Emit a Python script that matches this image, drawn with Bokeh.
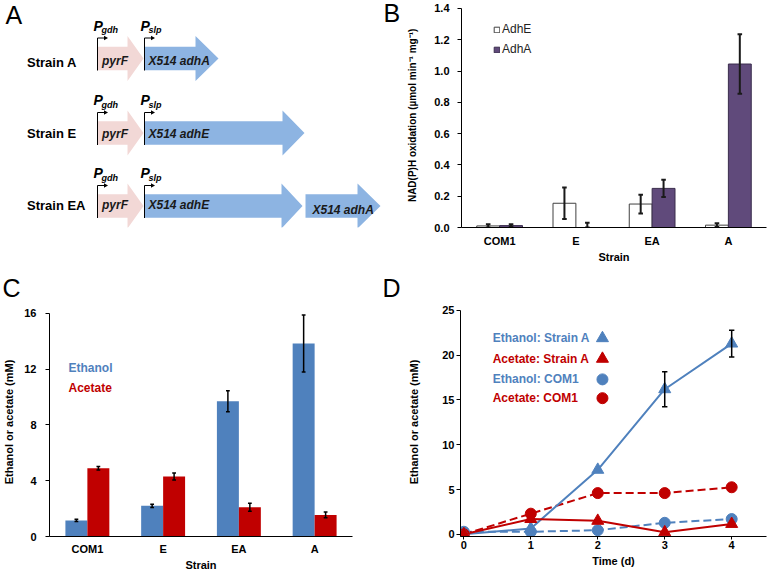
import numpy as np
from bokeh.plotting import figure
from bokeh.layouts import row, column
from bokeh.models import (ColumnDataSource, Range1d, FactorRange, Legend, LegendItem,
                          Label, FixedTicker, NumeralTickFormatter)
from bokeh.transform import dodge
from bokeh.core.properties import value
from bokeh.embed import file_html
from bokeh.resources import INLINE

FONT = "Liberation Sans"
BLUE = "#4f81bd"
RED = "#c00000"
PURPLE = "#604a7b"
ARROW_BLUE = "#8db4e2"
ARROW_PINK = "#f2d8d6"

# ---------------- data ----------------
strains = ["COM1", "E", "EA", "A"]

# Panel B: NAD(P)H oxidation activity
adhE_activity = [0.010, 0.155, 0.150, 0.015]
adhE_err = [0.010, 0.100, 0.060, 0.012]
adhA_activity = [0.012, 0.000, 0.250, 1.045]
adhA_err = [0.008, 0.030, 0.055, 0.190]
b_ticks = [0.0, 0.2, 0.4, 0.6, 0.8, 1.0, 1.2, 1.4]

# Panel C: end-point products (mM)
ethanol_mM = [1.15, 2.20, 9.70, 13.85]
ethanol_err = [0.08, 0.12, 0.75, 2.05]
acetate_mM = [4.90, 4.30, 2.10, 1.55]
acetate_err = [0.12, 0.25, 0.28, 0.20]
c_ticks = [0, 4, 8, 12, 16]

# Panel D: time course (mM)
days = [0, 1, 2, 3, 4]
ethanol_strainA = [0.0, 0.65, 7.2, 16.2, 21.3]
ethanol_strainA_err = [0.0, 0.0, 0.0, 1.95, 1.5]
acetate_strainA = [0.0, 1.7, 1.5, 0.22, 1.15]
ethanol_COM1 = [0.28, 0.28, 0.45, 1.28, 1.7]
acetate_COM1 = [0.0, 2.3, 4.6, 4.6, 5.25]
d_ticks = [0, 5, 10, 15, 20, 25]
d_series = ["Ethanol: Strain A", "Acetate: Strain A", "Ethanol: COM1", "Acetate: COM1"]

# Panel A: construct diagram
strain_names = ["Strain A", "Strain E", "Strain EA"]
gene_row = [0, 0, 1, 1, 2, 2, 2]
gene_names = ["pyrF", "X514 adhA", "pyrF", "X514 adhE", "pyrF", "X514 adhE", "X514 adhA"]
promoters = ["gdh", "slp"]


def style_axis(ax, label_size="11px", axis_label_size="11px"):
    ax.axis_line_color = "black"
    ax.axis_line_width = 1
    ax.major_label_text_font = FONT
    ax.major_label_text_font_style = "bold"
    ax.major_label_text_font_size = label_size
    ax.major_label_text_color = "black"
    ax.axis_label_text_font = FONT
    ax.axis_label_text_font_style = "bold"
    ax.axis_label_text_font_size = axis_label_size
    ax.axis_label_text_color = "black"
    ax.minor_tick_line_color = None
    ax.major_tick_in = 0
    ax.major_tick_out = 4
    ax.major_tick_line_color = "black"


def panel_title(p, text, offset):
    p.title.text = text
    p.title.align = "left"
    p.title.offset = offset
    p.title.standoff = 11
    p.title.text_font = FONT
    p.title.text_font_size = "25px"
    p.title.text_font_style = "normal"
    p.title.text_color = "black"


# ---------------- Panel A (also carries letters A and B) ----------------
pA = figure(width=404, height=266, x_range=Range1d(0, 404), y_range=Range1d(227, 0),
            x_axis_type=None, y_axis_type=None, output_backend="svg", toolbar_location=None,
            min_border_left=0, min_border_right=0, min_border_top=0, min_border_bottom=39)
pA.grid.visible = False
pA.outline_line_color = None

row_y = [58.0, 132.5, 205.5]
g_x0 = [96.5, 144, 96.5, 144, 96.5, 144, 305]
g_xh = [127, 195, 127, 282, 127, 281, 357]
g_xt = [143, 218, 143, 304, 143, 302, 380]
g_col = [ARROW_PINK, ARROW_BLUE, ARROW_PINK, ARROW_BLUE, ARROW_PINK, ARROW_BLUE, ARROW_BLUE]
bh, hh = 11.7, 22.5
xs, ys = [], []
for r, x0, xh, xt in zip(gene_row, g_x0, g_xh, g_xt):
    yc = row_y[r]
    xs.append([x0, xh, xh, xt, xh, xh, x0])
    ys.append([yc - bh, yc - bh, yc - hh, yc, yc + hh, yc + bh, yc + bh])
pA.patches(xs, ys, fill_color=g_col, line_color=None)

g_tx = [101.5, 148, 101.5, 148, 101.5, 148, 312]
g_ty = [60.5, 60.5, 133, 133, 204, 204, 209]
pA.text(g_tx, g_ty, text=gene_names, text_font=value(FONT), text_font_style="bold italic",
        text_font_size="12px", text_color="#1a1a1a", text_baseline="middle")

pA.text([26.5] * 3, [61.5, 133, 205], text=strain_names, text_font=value(FONT),
        text_font_style="bold", text_font_size="13px", text_color="black",
        text_baseline="middle")

prom_x = [97, 144]
vx0, vy0, vx1, vy1 = [], [], [], []
hx0, hy0, hx1, hy1 = [], [], [], []
tri_x, tri_y = [], []
px, py, sx, sy, st = [], [], [], [], []
for yc in row_y:
    for k, xp in enumerate(prom_x):
        top = yc - 20.5
        vx0.append(xp); vy0.append(top); vx1.append(xp); vy1.append(yc + 12)
        hx0.append(xp); hy0.append(top); hx1.append(xp + 7); hy1.append(top)
        tri_x.append([xp + 6.5, xp + 10.5, xp + 6.5])
        tri_y.append([top - 2.3, top, top + 2.3])
        px.append(xp - 4); py.append(yc - 33)
        sx.append(xp + 4); sy.append(yc - 28.5); st.append(promoters[k])
pA.segment(vx0, vy0, vx1, vy1, line_color="black", line_width=1)
pA.segment(hx0, hy0, hx1, hy1, line_color="black", line_width=1)
pA.patches(tri_x, tri_y, fill_color="black", line_color=None)
pA.text(px, py, text=["P"] * len(px), text_font=value(FONT), text_font_style="bold italic",
        text_font_size="14px", text_color="black", text_baseline="middle")
pA.text(sx, sy, text=st, text_font=value(FONT), text_font_style="bold italic",
        text_font_size="9px", text_color="black", text_baseline="middle")
pA.text([5, 383], [14, 12.5], text=["A", "B"], text_font=value(FONT),
        text_font_size="25px", text_color="black", text_baseline="middle")

# ---------------- Panel B ----------------
pB = figure(width=364, height=266, x_range=FactorRange(factors=strains), y_range=Range1d(0, 1.4511),
            output_backend="svg", toolbar_location=None,
            min_border_left=57, min_border_right=2, min_border_top=0, min_border_bottom=39)
pB.grid.visible = False
pB.outline_line_color = None
srcB = ColumnDataSource(dict(
    strain=strains, adhE=adhE_activity, adhA=adhA_activity,
    adhE_lo=[max(0, v - e) for v, e in zip(adhE_activity, adhE_err)],
    adhE_hi=[v + e for v, e in zip(adhE_activity, adhE_err)],
    adhA_lo=[max(0, v - e) for v, e in zip(adhA_activity, adhA_err)],
    adhA_hi=[v + e for v, e in zip(adhA_activity, adhA_err)],
))
rE = pB.vbar(x=dodge("strain", -0.15, range=pB.x_range), top="adhE", width=0.3, source=srcB,
             fill_color="white", line_color="#404040", line_width=1)
rA = pB.vbar(x=dodge("strain", 0.15, range=pB.x_range), top="adhA", width=0.3, source=srcB,
             fill_color=PURPLE, line_color="#3a2d4d", line_width=1)
for off, lo, hi in [(-0.15, "adhE_lo", "adhE_hi"), (0.15, "adhA_lo", "adhA_hi")]:
    xc = dodge("strain", off, range=pB.x_range)
    pB.segment(x0=xc, y0=lo, x1=xc, y1=hi, source=srcB, line_color="#1a1a1a", line_width=2)
    for yk in (lo, hi):
        pB.segment(x0=dodge("strain", off - 0.03, range=pB.x_range), y0=yk,
                   x1=dodge("strain", off + 0.03, range=pB.x_range), y1=yk,
                   source=srcB, line_color="#1a1a1a", line_width=2)
style_axis(pB.xaxis[0])
style_axis(pB.yaxis[0], axis_label_size="10px")
pB.xaxis.major_tick_line_color = None
pB.xaxis.major_tick_out = 0
pB.xaxis.axis_label = "Strain"
pB.xaxis.major_label_standoff = 7
pB.xaxis.axis_label_standoff = 1
pB.yaxis.axis_label = "NAD(P)H oxidation  (\u00b5mol min\u207b\u00b9 mg\u207b\u00b9)"
pB.yaxis.ticker = FixedTicker(ticks=b_ticks)
pB.yaxis.formatter = NumeralTickFormatter(format="0.0")
pB.yaxis.bounds = (0, 1.4)
pB.yaxis.major_label_standoff = 8
pB.yaxis.axis_label_standoff = 13
legB = Legend(items=[LegendItem(label="AdhE", renderers=[rE]), LegendItem(label="AdhA", renderers=[rA])],
              location=(32, 171), background_fill_alpha=0, border_line_color=None,
              padding=0, margin=0, spacing=6, glyph_width=7, glyph_height=7, label_standoff=2,
              label_text_font=FONT, label_text_font_size="12px", label_height=14,
              label_text_color="#222222")
pB.add_layout(legB)

# ---------------- Panel C ----------------
pC = figure(width=384, height=308, x_range=FactorRange(factors=strains), y_range=Range1d(0, 16.43),
            output_backend="svg", toolbar_location=None,
            min_border_left=45, min_border_right=32, min_border_top=40, min_border_bottom=38)
pC.grid.visible = False
pC.outline_line_color = None
panel_title(pC, "C", -47)
srcC = ColumnDataSource(dict(
    strain=strains, eth=ethanol_mM, ace=acetate_mM,
    eth_lo=[v - e for v, e in zip(ethanol_mM, ethanol_err)],
    eth_hi=[v + e for v, e in zip(ethanol_mM, ethanol_err)],
    ace_lo=[v - e for v, e in zip(acetate_mM, acetate_err)],
    ace_hi=[v + e for v, e in zip(acetate_mM, acetate_err)],
))
pC.vbar(x=dodge("strain", -0.145, range=pC.x_range), top="eth", width=0.29, source=srcC,
        fill_color=BLUE, line_color=None)
pC.vbar(x=dodge("strain", 0.145, range=pC.x_range), top="ace", width=0.29, source=srcC,
        fill_color=RED, line_color=None)
for off, lo, hi in [(-0.145, "eth_lo", "eth_hi"), (0.145, "ace_lo", "ace_hi")]:
    xc = dodge("strain", off, range=pC.x_range)
    pC.segment(x0=xc, y0=lo, x1=xc, y1=hi, source=srcC, line_color="black", line_width=1.5)
    for yk in (lo, hi):
        pC.segment(x0=dodge("strain", off - 0.025, range=pC.x_range), y0=yk,
                   x1=dodge("strain", off + 0.025, range=pC.x_range), y1=yk,
                   source=srcC, line_color="black", line_width=1.5)
style_axis(pC.xaxis[0])
style_axis(pC.yaxis[0])
pC.xaxis.major_tick_line_color = None
pC.xaxis.major_tick_out = 0
pC.xaxis.axis_label = "Strain"
pC.xaxis.major_label_standoff = 6
pC.xaxis.axis_label_standoff = 1
pC.yaxis.axis_label = "Ethanol or acetate (mM)"
pC.yaxis.ticker = FixedTicker(ticks=c_ticks)
pC.yaxis.bounds = (0, 16)
pC.yaxis.major_label_standoff = 9
pC.yaxis.axis_label_standoff = 6
for txt, col, yy in [("Ethanol", BLUE, 169), ("Acetate", RED, 149)]:
    pC.add_layout(Label(x=19, y=yy, x_units="screen", y_units="screen", text=txt,
                        text_font=FONT, text_font_style="bold", text_font_size="12px",
                        text_color=col, text_baseline="middle"))

# ---------------- Panel D ----------------
pD = figure(width=384, height=308, x_range=Range1d(-0.05, 4.52), y_range=Range1d(-0.25, 25.33),
            output_backend="svg", toolbar_location=None,
            min_border_left=76, min_border_right=2, min_border_top=40, min_border_bottom=38)
pD.grid.visible = False
pD.outline_line_color = None
panel_title(pD, "D", -78)
style_axis(pD.xaxis[0])
style_axis(pD.yaxis[0])
pD.xaxis.ticker = FixedTicker(ticks=days)
pD.yaxis.ticker = FixedTicker(ticks=d_ticks)
pD.yaxis.bounds = (-0.25, 25)
pD.xaxis.axis_label = "Time (d)"
pD.yaxis.axis_label = "Ethanol or acetate (mM)"
pD.xaxis.major_tick_out = 3
pD.xaxis.major_label_standoff = 1
pD.xaxis.axis_label_standoff = 3
pD.yaxis.major_label_standoff = 2
pD.yaxis.axis_label_standoff = 19

pD.line(days, ethanol_COM1, line_color=BLUE, line_width=2, line_dash="8 4")
pD.line(days, acetate_COM1, line_color=RED, line_width=2, line_dash="8 4")
pD.line(days, ethanol_strainA, line_color=BLUE, line_width=2)
pD.line(days, acetate_strainA, line_color=RED, line_width=2)
pD.scatter(days, ethanol_COM1, marker="circle", size=11, fill_color=BLUE, line_color=BLUE)
pD.scatter(days, acetate_COM1, marker="circle", size=11, fill_color=RED, line_color=RED)
pD.scatter(days, ethanol_strainA, marker="triangle", size=12, fill_color=BLUE, line_color=BLUE)
pD.scatter(days, acetate_strainA, marker="triangle", size=12, fill_color=RED, line_color=RED)
ea = np.array(ethanol_strainA); ee = np.array(ethanol_strainA_err); dd = np.array(days, dtype=float)
m = ee > 0
pD.segment(dd[m], ea[m] - ee[m], dd[m], ea[m] + ee[m], line_color="black", line_width=1.5)
for sgn in (-1, 1):
    pD.segment(dd[m] - 0.04, ea[m] + sgn * ee[m], dd[m] + 0.04, ea[m] + sgn * ee[m],
               line_color="black", line_width=1.5)

leg_y = [21.9, 19.6, 17.3, 15.2]
leg_col = [BLUE, RED, BLUE, RED]
leg_mk = ["triangle", "triangle", "circle", "circle"]
pD.text([0.43] * 4, leg_y, text=d_series, text_color=leg_col, text_font=value(FONT),
        text_font_style="bold", text_font_size="12px", text_baseline="middle")
pD.scatter([2.07] * 4, leg_y, marker=leg_mk, size=[12, 12, 11, 11], fill_color=leg_col,
           line_color=leg_col)

layout = column(row(pA, pB), row(pC, pD))
open("out.html", "w").write(file_html(layout, INLINE))
